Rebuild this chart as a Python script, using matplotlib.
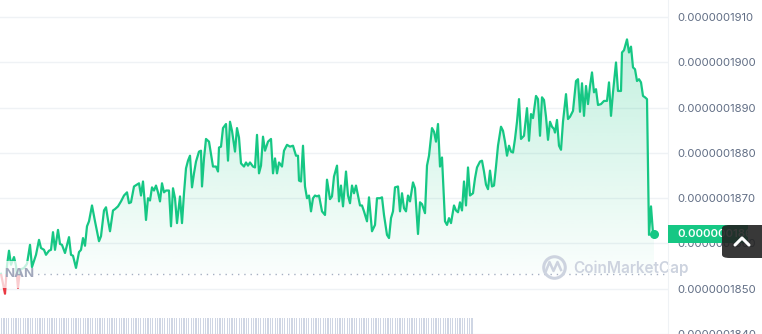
import matplotlib
matplotlib.use('Agg')
import numpy as np
import matplotlib.pyplot as plt
import matplotlib.transforms as mtransforms
from matplotlib.patches import Rectangle, FancyBboxPatch
from matplotlib.lines import Line2D

# price in units of 1e-10, time in 2-minute steps
times = [1, 5, 7, 9, 11, 14, 16, 18, 20, 24, 27,
         30, 32, 36, 39, 41, 44, 46, 49, 51, 53, 55, 58, 60, 62, 65, 69, 71, 73, 76, 79,
         81, 83, 85, 87, 89, 92, 95, 99, 101, 104, 106, 108, 110, 113, 115, 118, 121, 124, 127, 129, 131, 134,
         139, 141, 143, 145, 146, 148, 150, 152, 154, 156, 158, 160, 162, 164, 166, 169, 171, 173, 175, 177,
         180, 182, 184, 186, 188, 190, 192, 194, 196, 199, 201, 202, 204, 206, 209, 211, 213, 216, 218, 219,
         221, 223, 226, 228, 230, 232, 235, 237, 239, 241, 244, 246, 248, 250, 253, 255, 257, 259, 261, 263,
         265, 268, 271, 273, 275, 277, 279, 282, 284, 287, 290, 293, 296, 298, 299, 301, 303, 305, 307, 309,
         311, 313, 315, 317, 319, 322, 325, 327, 330, 332, 334, 337, 339, 341, 343, 346, 348, 350, 352, 354,
         356, 358, 360, 362, 364, 367, 369, 372, 375, 377, 380, 382, 384, 387, 389, 391, 393, 395, 398, 400,
         402, 404, 406, 408, 410, 413, 415, 418, 420, 422, 425, 427, 429, 432, 434, 436, 438, 440, 442, 445,
         447, 449, 451, 454, 456, 458, 460, 462, 464, 466, 468, 470, 473, 475, 477, 480, 482, 484, 486, 488,
         490, 492, 494, 496, 498, 501, 503, 505, 507, 509, 511, 513, 515, 517, 519, 521, 524, 527, 529, 531,
         533, 536, 538, 540, 542, 544, 546, 548, 550, 552, 554, 555, 557, 559, 561, 563, 566, 568, 570, 573,
         576, 578, 580, 582, 584, 586, 588, 590, 592, 594, 596, 598, 601, 604, 607, 609, 611, 613, 616, 618,
         621, 622, 624, 627, 629, 631, 633, 635, 637, 639, 641, 643, 645, 647, 649, 651, 653, 654]

prices = [1853.3, 1848.9, 1855.1, 1858.4, 1855.3, 1857.0, 1855.1, 1850.2, 1854.2, 1854.6, 1855.5,
          1859.7, 1854.8, 1857.5, 1860.8, 1859.0, 1858.6, 1857.5, 1858.4, 1858.6, 1862.5, 1858.6, 1863.0, 1859.9, 1859.7, 1857.9, 1861.4, 1857.5, 1857.3, 1854.6, 1858.1,
          1858.6, 1861.2, 1859.5, 1863.8, 1864.9, 1868.4, 1864.9, 1860.5, 1861.6, 1867.3, 1868.0, 1865.2, 1862.7, 1867.3, 1867.6, 1868.2, 1869.3, 1870.6, 1871.3, 1868.9, 1869.1, 1872.6,
          1873.3, 1870.6, 1873.7, 1868.4, 1865.2, 1870.0, 1869.5, 1872.4, 1871.7, 1872.8, 1871.3, 1869.3, 1873.3, 1871.3, 1871.7, 1871.7, 1863.8, 1872.2, 1870.0, 1864.5,
          1870.4, 1864.5, 1871.1, 1876.6, 1878.3, 1879.4, 1872.4, 1875.5, 1878.1, 1880.3, 1880.5, 1872.6, 1878.8, 1883.1, 1882.5, 1879.8, 1877.0, 1877.0, 1875.9, 1881.2,
          1881.4, 1885.5, 1886.4, 1878.3, 1886.9, 1884.9, 1880.3, 1885.5, 1883.4, 1877.7, 1877.0, 1877.9, 1877.2, 1877.9, 1877.0, 1876.8, 1884.0, 1875.5, 1877.2, 1883.6,
          1880.5, 1882.5, 1883.1, 1875.5, 1878.8, 1875.5, 1877.9, 1877.0, 1880.5, 1881.8, 1881.4, 1881.6, 1879.4, 1879.4, 1873.9, 1873.7, 1881.6, 1872.6, 1870.0, 1870.6,
          1867.1, 1870.0, 1870.6, 1870.4, 1870.6, 1867.1, 1866.3, 1874.1, 1869.8, 1870.4, 1874.8, 1877.2, 1869.3, 1872.8, 1868.2, 1875.9, 1870.6, 1868.9, 1872.8, 1871.1,
          1872.8, 1870.6, 1868.4, 1868.4, 1867.1, 1864.9, 1870.2, 1862.7, 1864.1, 1870.0, 1870.0, 1870.2, 1866.3, 1861.9, 1861.2, 1865.6, 1867.1, 1872.4, 1872.6, 1867.1,
          1871.1, 1867.8, 1867.1, 1870.6, 1869.3, 1873.5, 1872.2, 1862.1, 1869.1, 1868.7, 1866.7, 1877.2, 1879.4, 1885.5, 1884.7, 1882.5, 1886.4, 1877.0, 1879.0, 1864.9,
          1864.1, 1865.6, 1864.5, 1868.4, 1867.3, 1866.9, 1869.1, 1867.3, 1873.7, 1868.4, 1876.8, 1870.6, 1871.1, 1874.4, 1876.8, 1878.1, 1878.3, 1875.9, 1873.0, 1872.0,
          1876.1, 1872.6, 1872.8, 1877.0, 1881.6, 1885.8, 1884.9, 1882.5, 1879.4, 1881.6, 1880.3, 1880.1, 1883.1, 1886.9, 1891.9, 1883.1, 1883.8, 1889.9, 1882.7, 1888.6,
          1887.7, 1892.6, 1891.9, 1883.8, 1892.3, 1891.7, 1888.0, 1882.9, 1886.9, 1885.8, 1885.3, 1884.5, 1887.3, 1881.6, 1880.7, 1886.9, 1893.0, 1887.5, 1888.0, 1889.3,
          1895.9, 1896.3, 1889.1, 1895.4, 1888.2, 1894.8, 1890.8, 1894.8, 1897.8, 1893.4, 1894.1, 1890.6, 1890.8, 1891.5, 1891.5, 1895.6, 1888.2, 1893.4, 1900.0, 1893.7,
          1893.7, 1902.2, 1902.7, 1905.1, 1902.2, 1903.5, 1898.9, 1898.5, 1895.9, 1896.3, 1895.6, 1892.6, 1892.3, 1891.9, 1861.9, 1868.2, 1862.3, 1862.0]

baseline = 1853.3  # reference price (dotted line)
grid_levels = [1840, 1850, 1860, 1870, 1880, 1890, 1900, 1910]
vol_times = np.arange(1, 473, 2.4)
vol_values = [1.0] * len(vol_times)  # bars run past the bottom edge

green = '#16c784'
red = '#ea3943'

plt.rcParams['font.family'] = ['Inter', 'DejaVu Sans']

fig = plt.figure(figsize=(7.62, 3.34), dpi=100)
ax = fig.add_axes([0, 0, 668 / 762, 1])
ax.set_xlim(0, 668)
ax.set_ylim(1840.6, 1913.8)
for s in ax.spines.values():
    s.set_visible(False)
ax.spines['right'].set_visible(True)
ax.spines['right'].set_color('#eff2f5')
ax.set_xticks([])
ax.set_yticks(grid_levels)
ax.set_yticklabels([f"{v * 1e-10:.10f}" for v in grid_levels])
ax.yaxis.tick_right()
ax.tick_params(axis='y', length=0, pad=7, labelsize=8.2, labelcolor='#616e85')
ax.grid(axis='y', color='#eff2f5', lw=1)
ax.set_axisbelow(True)

# gradient fill under the line
poly = ax.fill_between(times, prices, baseline, facecolor='none', edgecolor='none')
img = np.zeros((256, 1, 4))
img[..., :3] = matplotlib.colors.to_rgb(green)
img[..., 3] = np.linspace(0.02, 0.30, 256)[:, None]
im = ax.imshow(img, extent=(0, 668, baseline, 1913.8), origin='lower', aspect='auto', zorder=1)
im.set_clip_path(poly.get_paths()[0], transform=ax.transData)

# line: green above baseline, red below
line_g, = ax.plot(times, prices, color=green, lw=1.6, zorder=3, solid_joinstyle='round')
line_g.set_clip_path(Rectangle((0, baseline), 700, 200, transform=ax.transData))
line_r, = ax.plot(times, prices, color=red, lw=1.6, zorder=3, solid_joinstyle='round')
line_r.set_clip_path(Rectangle((0, 1800), 700, baseline - 1800, transform=ax.transData))
ax.plot(times[-1], prices[-1], 'o', color=green, ms=5.5, zorder=4)

ax.axhline(baseline, color='#a6b0c3', lw=1, ls=(0, (1, 3.5)), zorder=2)
ax.add_patch(Rectangle((0, baseline - 3.1), 29, 6.0, fc='white', ec='none', alpha=0.75, zorder=4))
ax.text(4, baseline, 'NAN', fontsize=9.5, fontweight='bold', color='#a1a7bb', va='center', ha='left', zorder=5)

# watermark
ax.plot([553.5 / 668], [1 - 267 / 334], 'o', transform=ax.transAxes, ms=15.5, mfc='none', mec='#cdd3df', mew=2.2, zorder=2)
wx = [546, 549.5, 553.5, 557.5, 561]
wy = [271, 262, 271, 262, 270]
ax.add_line(Line2D([v / 668 for v in wx], [1 - v / 334 for v in wy], transform=ax.transAxes, color='#cdd3df', lw=1.8, zorder=2))
ax.text(573 / 668, 1 - 268 / 334, 'CoinMarketCap', transform=ax.transAxes, fontsize=11, fontweight='semibold',
        color='#cdd3df', va='center', ha='left', clip_on=False, zorder=2)

# current price tag
trans = mtransforms.blended_transform_factory(ax.transAxes, ax.transData)
ax.add_patch(Rectangle((1.0, prices[-1] - 1.97), 80 / 668, 3.95, transform=trans, fc=green, ec='none', clip_on=False, zorder=6))
ax.text(1 + 9 / 668, prices[-1], f"{prices[-1] * 1e-10:.10f}", transform=trans, color='white', fontsize=8.2,
        fontweight='semibold', va='center', ha='left', clip_on=False, zorder=7)

# scroll-to-top button
fig.add_artist(FancyBboxPatch((722 / 762, 1 - 258 / 334), 50 / 762, 33 / 334, boxstyle='round,pad=0,rounding_size=0.01',
                              transform=fig.transFigure, fc='#222222', ec='none', alpha=0.9, zorder=10))
fig.add_artist(Line2D([735 / 762, 742 / 762, 749 / 762], [1 - 245 / 334, 1 - 238 / 334, 1 - 245 / 334],
                      transform=fig.transFigure, color='white', lw=2.2, solid_capstyle='round', zorder=11))

# volume bars
vax = fig.add_axes([0, 0, 668 / 762, 16 / 334])
vax.bar(vol_times, vol_values, width=1.2, color='#cfd6e4', align='edge')
vax.set_xlim(0, 668)
vax.set_ylim(0, 1)
vax.axis('off')

fig.savefig('out.png', dpi=100, facecolor='white')
